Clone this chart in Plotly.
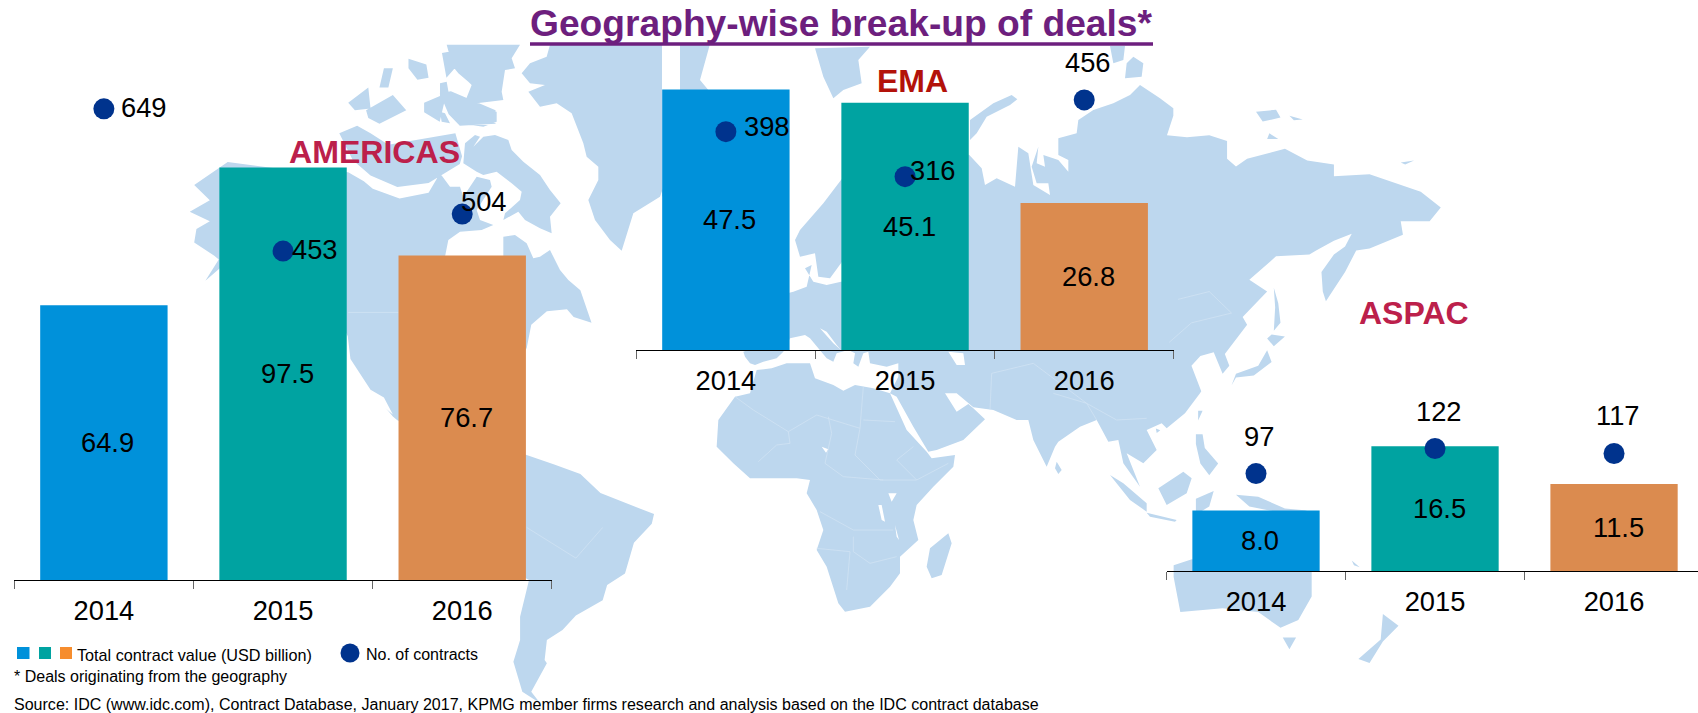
import plotly.graph_objects as go

# ---------- data ----------
years = ["2014", "2015", "2016"]
americas_value = [64.9, 97.5, 76.7]
americas_contracts = [649, 453, 504]
ema_value = [47.5, 45.1, 26.8]
ema_contracts = [398, 316, 456]
aspac_value = [8.0, 16.5, 11.5]
aspac_contracts = [97, 122, 117]

W, H = 1698, 713
BAR_COLORS = ["#0091DA", "#00A3A1", "#DB8B4F"]
DOT = "#00338D"
LAND = "#BDD7EE"
FONT = "Liberation Sans"

# ---------- background map outlines, traced by eye ----------
C = {
    "z1": (0, 560, 2.24, 3), "z3": (1000, 100, 2.246, 2.558), "z4": (0, 30, 2.24, 2.613),
    "z5": (700, 330, 3, 3), "z6": (440, 40, 3, 3), "z7": (780, 40, 3, 3), "z8": (640, 230, 3, 3),
}
def seg(c, pts):
    ox, oy, kx, ky = C[c]
    return [(ox + x / kx, oy + y / ky) for x, y in pts]

land = [
    # North America
    seg("z4", [(425,475),(470,445),(435,405),(510,345),(620,362),(780,372),(815,395),(835,415),(895,440),(960,425)])
    + seg("z6", [(0,400),(30,440),(60,440),(70,470),(110,410),(150,420),(155,440),(110,510),(120,540),(160,555),(125,570),(60,575),(25,600),(15,650),(190,650),(190,590),(225,585),(260,610),(280,655),(300,650),(330,630),(360,690),(385,720)])
    + seg("z4", [(1300,680),(1325,765),(1285,750),(1270,730),(1225,735),(1190,770),(1180,830),(1150,900),(1100,1000),(1000,1080),(890,1020),(880,1010),(830,940),(785,860),(779,800),(740,700),(600,600),(495,620),(460,655),(490,600),(480,590),(435,555),(440,520),(470,500)]),
    # South America
    seg("z4", [(1100,1090),(1178,1110),(1240,1135),(1300,1160),(1345,1210),(1400,1235),(1465,1265),(1460,1290),(1420,1340),(1400,1420),(1360,1450),(1350,1490),(1290,1530),(1260,1568)])
    + seg("z1", [(1225,240),(1220,300),(1225,310),(1190,395),(1210,430),(1170,395),(1150,305),(1165,240),(1165,170),(1185,60),(1100,0)]),
    # Arctic Canada
    seg("z6", [(70,370),(75,310),(105,285),(120,290),(100,320),(130,290),(165,285),(205,300),(215,330),(250,365),(300,405),(330,450),(362,490),(330,530),(335,580),(300,565),(255,540),(235,515),(190,540),(195,520),(240,480),(245,455),(215,430),(170,395),(130,405),(110,395)]),
    seg("z6", [(20,14),(240,14),(215,55),(225,85),(195,90),(185,155),(190,180),(110,190),(75,185),(95,135),(85,125),(55,100),(35,75),(30,50)]),
    seg("z6", [(35,180),(55,205),(120,215),(170,215),(170,245),(130,260),(60,250),(45,225)]),
    seg("z6", [(0,130),(20,125),(30,180),(15,190),(0,170)]),
    seg("z6", [(0,215),(15,220),(30,250),(5,245)]),
    seg("z4", [(915,75),(955,90),(960,125),(935,130),(915,100)]),
    seg("z4", [(780,190),(825,150),(830,205),(795,210)]),
    seg("z4", [(820,210),(880,170),(910,210),(850,245),(825,230)]),
    seg("z4", [(860,100),(880,100),(870,150),(850,150)]),
    seg("z4", [(950,190),(1000,165),(985,240),(950,215)]),
    seg("z4", [(985,165),(1010,160),(1110,210),(1110,245),(1030,250),(1005,220)]),
    seg("z4", [(990,60),(1060,45),(1000,125)]),
    seg("z4", [(760,270),(800,250),(830,270),(870,300),(1020,270),(1035,330),(1030,350),(960,400),(890,410),(830,380),(790,340)]),
    # Greenland
    seg("z6", [(330,14),(320,50),(270,70),(245,100),(270,130),(315,135),(265,155),(300,200),(350,190),(395,220),(430,310),(440,350),(475,380),(475,420),(445,480),(465,540),(510,600),(545,632),(580,520),(660,470),(720,300),(720,14)]),
    [(662, 44), (710, 44), (700, 80), (710, 92), (700, 150), (662, 197)],
    # Svalbard, Novaya Zemlya, Severnaya Zemlya
    seg("z7", [(105,25),(270,20),(235,60),(245,130),(190,150),(160,175),(130,110)]),
    seg("z7", [(570,240),(640,190),(695,165),(712,178),(690,195),(620,230),(590,280),(570,300)]),
    seg("z7", [(1040,70),(1060,50),(1090,70),(1085,110),(1035,115)]),
    seg("z7", [(990,18),(1035,18),(1030,60),(1000,70)]),
    # Scandinavia
    seg("z7", [(250,350),(183,420),(130,490),(60,570),(45,600),(60,650),(105,640),(115,710),(150,715),(190,660),(250,600)]),
    # Eurasia
    seg("z7", [(1180,227),(1180,205),(1140,175),(1080,135),(1050,165),(1000,190),(940,210),(895,240),(890,280),(835,295),(835,345),(865,360),(865,395),(835,360),(790,345),(795,380),(770,370),(775,320),(755,380),(770,430),(805,430),(810,465),(760,435),(745,340),(715,320),(705,440),(650,415),(615,435),(605,385),(568,345),(400,300),(200,600)])
    + seg("z8", [(640,150),(603,155),(560,165),(520,155),(495,115),(515,105),(500,170),(460,185),(400,200),(380,340),(310,365),(315,380),(330,400),(345,405),(370,395),(410,385),(430,365),(450,325),(495,315),(510,325),(560,385),(580,395),(590,370),(625,360),(645,370),(640,400),(655,410),(670,370),(685,365),(690,400),(740,410),(775,400),(775,440),(750,490)])
    + seg("z5", [(590,200),(640,290),(685,365),(710,360),(790,330),(855,268),(820,235),(805,222),(770,245),(735,190),(770,190),(820,232),(880,240),(950,270),(985,270),(1000,330),(1040,410),(1065,350),(1075,335),(1140,290),(1190,270),(1225,335),(1255,330),(1270,400),(1320,470),(1300,420),(1280,370),(1330,400),(1370,360),(1340,300),(1385,280),(1400,295),(1455,250),(1500,190)])
    + seg("z3", [(452,745),(430,680),(450,655),(480,645),(500,700),(515,680),(505,650),(555,575),(545,555),(600,490),(560,460),(620,400),(695,395),(710,385),(750,360),(790,342),(775,375),(750,395),(722,440),(725,490),(732,515),(775,440),(800,385),(830,380),(905,345),(900,310),(965,310),(990,275),(945,235),(830,190),(750,195),(750,165),(690,155),(640,125),(555,150),(530,170),(510,150),(510,105),(470,90),(420,95),(375,90)]),
    # Africa and Indian Ocean islands
    seg("z5", [(170,120),(215,115),(260,100),(330,100),(345,145),(400,165),(430,182),(465,165),(520,175),(570,190),(620,300),(680,365),(695,385),(765,375),(760,410),(700,470),(650,525),(640,570),(655,630),(600,680),(600,730),(570,770),(510,830),(435,845),(415,820),(380,710),(350,660),(370,600),(350,540),(320,490),(330,450),(290,445),(150,445),(100,400),(50,350),(55,270),(105,200),(150,190)]),
    seg("z5", [(745,610),(755,640),(725,735),(695,745),(680,710),(690,655)]),
    seg("z5", [(1070,395),(1085,420),(1075,432),(1065,415)]),
    # South-east Asia and Oceania
    seg("z5", [(1230,435),(1270,460),(1340,520),(1340,545),(1290,510)]),
    seg("z5", [(1340,548),(1430,570),(1425,575),(1350,560)]),
    seg("z5", [(1375,475),(1450,425),(1475,445),(1460,490),(1400,525)]),
    seg("z3", [(440,855),(455,855),(460,890),(490,930),(470,960),(450,930),(440,880)]),
    seg("z3", [(440,1020),(480,1000),(470,1040),(440,1060)]),
    seg("z3", [(530,1010),(580,1015),(640,1045),(690,1050),(650,1060),(560,1040)]),
    seg("z3", [(390,1190),(431,1175),(700,1205),(700,1270),(670,1330),(630,1350),(580,1310),(500,1300),(405,1310),(390,1220)]),
    seg("z3", [(635,1375),(665,1375),(650,1405)]),
    seg("z3", [(860,1315),(895,1345),(860,1385),(830,1440),(805,1430),(855,1380)]),
    seg("z3", [(790,1178),(808,1195),(795,1190)]),
    # Japan, Sakhalin, Taiwan and Arctic Siberia
    seg("z3", [(615,480),(625,520),(630,570),(615,590),(618,530)]),
    seg("z3", [(610,600),(640,605),(615,630),(600,610)]),
    seg("z3", [(600,640),(610,670),(570,705),(530,710),(520,730),(530,700),(580,680)]),
    seg("z3", [(445,795),(455,795),(445,820)]),
    seg("z3", [(350,840),(360,845),(352,852)]),
    seg("z3", [(575,30),(620,25),(630,45),(590,55)]),
    seg("z3", [(650,40),(680,50),(660,52)]),
    seg("z3", [(605,85),(625,100),(600,100)]),
    seg("z3", [(900,160),(930,155),(910,165)]),
]
water = [
    seg("z5", [(745,65),(790,70),(795,105),(770,105)]),
    seg("z5", [(565,490),(590,490),(575,515)]),
    seg("z5", [(535,525),(545,525),(555,575),(545,570)]),
    seg("z5", [(585,585),(597,630),(590,620)]),
    seg("z5", [(365,350),(385,358),(378,368)]),
    seg("z8", [(540,295),(560,305),(590,345),(603,360),(580,340)]),
    seg("z4", [(830,940),(860,960),(880,1005),(845,970)]),
]
borders = [
    seg("z5", [(105,200),(160,240),(265,305),(350,255),(480,295),(490,170)]),
    seg("z5", [(265,305),(270,340),(230,345),(175,395)]),
    seg("z5", [(490,270),(585,275)]),
    seg("z5", [(480,295),(465,375),(540,450),(650,450),(745,400)]),
    seg("z5", [(385,260),(395,310),(375,400),(430,440),(550,450)]),
    seg("z5", [(360,545),(460,600),(580,600)]),
    seg("z5", [(350,655),(450,665),(440,780)]),
    seg("z5", [(460,620),(460,665),(510,700),(590,680)]),
    seg("z5", [(640,350),(590,390),(650,450)]),
    seg("z5", [(870,240),(875,130),(1000,100),(1160,220),(1250,270),(1340,265)]),
    seg("z5", [(1190,270),(1160,220),(1060,190)]),
    seg("z4", [(780,738),(893,738)]),
    seg("z4", [(1180,1300),(1290,1380),(1350,1300)]),
    seg("z3", [(400,510),(470,490),(520,545),(430,570),(380,620)]),
]

def flat(polys, closed=True):
    xs, ys = [], []
    for p in polys:
        q = p + [p[0]] if closed else p
        xs += [a for a, _ in q] + [None]
        ys += [b for _, b in q] + [None]
    return xs, ys

fig = go.Figure()
x, y = flat(land)
fig.add_trace(go.Scatter(x=x, y=y, xaxis="x", yaxis="y", mode="lines", fill="toself", fillcolor=LAND,
                         line=dict(width=0, color=LAND), hoverinfo="skip", showlegend=False))
x, y = flat(water)
fig.add_trace(go.Scatter(x=x, y=y, xaxis="x", yaxis="y", mode="lines", fill="toself", fillcolor="white",
                         line=dict(width=0, color="white"), hoverinfo="skip", showlegend=False))
x, y = flat(borders, closed=False)
fig.add_trace(go.Scatter(x=x, y=y, xaxis="x", yaxis="y", mode="lines",
                         line=dict(width=0.7, color="#D3E4F4"), hoverinfo="skip", showlegend=False))

layout = dict(
    width=W, height=H, margin=dict(l=0, r=0, t=0, b=0, pad=0), autosize=False,
    paper_bgcolor="white", plot_bgcolor="rgba(0,0,0,0)", showlegend=False, bargap=0.289,
    font=dict(family=FONT, color="black"),
    xaxis=dict(domain=[0, 1], range=[0, W], visible=False, fixedrange=True),
    yaxis=dict(domain=[0, 1], range=[H, 0], visible=False, fixedrange=True),
)
ann = []
def px(a): return a / W
def py(b): return 1 - b / H

LABEL = 27.3
panels = [
    # values, contracts, left px, right px, axis y px, px/value, px/contract, range right, offsets
    (americas_value, americas_contracts, 14.3, 551.8, 580.0, 4.232, 0.726, 2.5,
     [(40, -1), (32, -2), (21.5, -12.8)]),
    (ema_value, ema_contracts, 636.3, 1173.8, 350.0, 5.485, 0.5485, 2.5,
     [(40.7, -5), (28, -6), (4, -37)]),
    (aspac_value, aspac_contracts, 1166.5, W, 571.0, 7.56, 1.004, 2.469,
     [(3, -37), (4, -37), (3.5, -37.6)]),
]
n = 2
for vals, cnts, left, right, axy, sv, sc, rr, offs in panels:
    xa, yb, yc = f"x{n}", f"y{2*n-2}", f"y{2*n-1}"
    fig.add_trace(go.Bar(x=years, y=vals, xaxis=xa, yaxis=yb, marker=dict(color=BAR_COLORS, line=dict(width=0)),
                         hoverinfo="skip", showlegend=False))
    fig.add_trace(go.Scatter(x=years, y=cnts, xaxis=xa, yaxis=yc, mode="markers",
                             marker=dict(size=21, color=DOT, line=dict(width=0)), hoverinfo="skip", showlegend=False))
    layout[f"xaxis{n}"] = dict(domain=[px(left), px(right)], type="category", range=[-0.5, rr], anchor=yb,
                               showgrid=False, zeroline=False, showline=True, linecolor="black", linewidth=1.2,
                               ticks="outside", tickson="boundaries", ticklen=8, tickwidth=1, tickcolor="#666666",
                               tickfont=dict(size=LABEL, family=FONT, color="black"), ticklabelstandoff=6, fixedrange=True)
    layout[f"yaxis{2*n-2}"] = dict(domain=[py(axy), 1], range=[0, axy / sv], visible=False, anchor=xa, fixedrange=True)
    layout[f"yaxis{2*n-1}"] = dict(domain=[py(axy), 1], range=[0, axy / sc], visible=False, anchor=xa,
                                   overlaying=f"y{2*n-2}", fixedrange=True)
    for i, yr in enumerate(years):
        ann.append(dict(x=i, y=vals[i] / 2, xref=xa, yref=yb, text=f"{vals[i]:.1f}", showarrow=False, xshift=4,
                        font=dict(size=LABEL, family=FONT, color="black")))
        ann.append(dict(x=i, y=cnts[i], xref=xa, yref=yc, text=str(cnts[i]), showarrow=False,
                        xshift=offs[i][0], yshift=-offs[i][1], font=dict(size=LABEL, family=FONT, color="black")))
    n += 1

def page_text(text, cx, cy, size, color="black", anchor="center", bold=False):
    ann.append(dict(xref="paper", yref="paper", x=px(cx), y=py(cy), xanchor=anchor, yanchor="middle", showarrow=False,
                    text=f"<b>{text}</b>" if bold else text, font=dict(size=size, family=FONT, color=color)))

page_text("Geography-wise break-up of deals*", 841.5, 23, 37.2, "#6D1F7E", bold=True)
page_text("AMERICAS", 374.5, 152, 32.1, "#BC204B", bold=True)
page_text("EMA", 912, 81, 32, "#B3120A", bold=True)
page_text("ASPAC", 1414, 312.7, 32, "#BC204B", bold=True)
page_text("Total contract value (USD billion)", 74.5, 654.5, 16.2, anchor="left")
page_text("No. of contracts", 364, 654.5, 16, anchor="left")
page_text("* Deals originating from the geography", 11.5, 676, 16, anchor="left")
page_text("Source: IDC (www.idc.com), Contract Database, January 2017, KPMG member firms research and analysis based on the IDC contract database",
          11.5, 703.5, 16.05, anchor="left")

shapes = [dict(type="line", xref="paper", yref="paper", x0=px(530), x1=px(1153), y0=py(44), y1=py(44),
               line=dict(color="#6D1F7E", width=3.5))]
for a, b, col in [(17, 29.5, "#0091DA"), (39, 51, "#00A3A1"), (60, 72, "#F68D2E")]:
    shapes.append(dict(type="rect", xref="paper", yref="paper", x0=px(a), x1=px(b), y0=py(659), y1=py(647),
                       fillcolor=col, line=dict(width=0)))
shapes.append(dict(type="circle", xref="paper", yref="paper", x0=px(340.5), x1=px(359.5), y0=py(662.5), y1=py(643.5),
                   fillcolor=DOT, line=dict(width=0)))
layout["annotations"] = ann
layout["shapes"] = shapes
fig.update_layout(**layout)
fig.write_html("out.html", config=dict(displayModeBar=False),
               post_script="document.body.style.margin='0';document.body.style.overflow='hidden';")
